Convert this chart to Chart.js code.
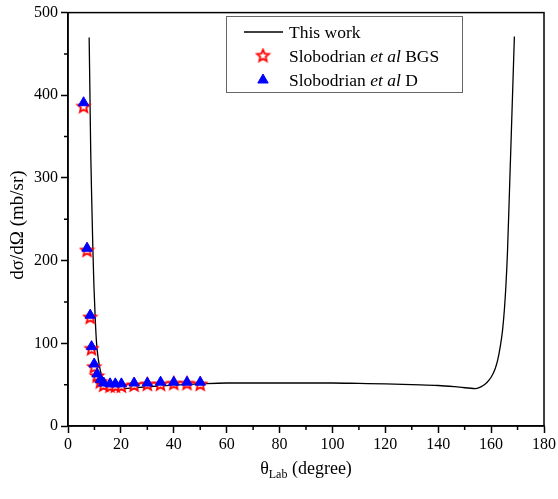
<!DOCTYPE html>
<html>
<head>
<meta charset="utf-8">
<script src="https://cdn.jsdelivr.net/npm/chart.js@4.4.1/dist/chart.umd.min.js"></script>
<style>
  html, body { margin: 0; padding: 0; background: #fff; }
</style>
</head>
<body>
<canvas id="chart" width="558" height="499"></canvas>
<script>
// ── Data ────────────────────────────────────────────────────────────
// theory curve ("This work")
const thetaCurve = [8.0, 8.3, 8.6, 9.0, 9.4, 9.8, 10.3, 10.8, 11.5, 12.3, 13.2, 14.5, 16, 18, 20, 24, 30, 40, 50, 60,
                    70, 80, 90, 100, 110, 120, 130, 140, 148, 154, 155.5, 157, 158.5, 160, 161.5, 162.5, 163.5,
                    164.3, 165, 165.6, 166.2, 167, 167.8, 168.8];
const sigmaCurve = [470, 400, 330, 270, 215, 170, 130, 100, 80, 66, 57, 51, 47, 45.5, 45, 46, 47.5, 49.5, 51, 52,
                    52, 52, 52, 52, 51.5, 51, 50, 49, 47, 45.3, 46.5, 49, 53, 59, 69, 80, 97,
                    115, 140, 170, 211, 290, 370, 471];

// Slobodrian et al data
const thetaExp = [5.9, 7.2, 8.4, 8.9, 9.9, 11.0, 12.2, 13.5, 15.9, 17.9, 20.2, 25, 30, 35, 40, 45, 50];
const sigmaBGS = [386, 212, 131, 93, 71, 60, 53, 49, 48, 48, 48, 49, 50, 50, 51, 51, 50];
const sigmaD   = [391, 215, 134, 96, 75, 63, 56, 52, 51, 51, 51, 52, 52, 53, 53, 53, 53];

// axes
const X_TICKS = [0, 20, 40, 60, 80, 100, 120, 140, 160, 180];
const X_MINOR = [10, 30, 50, 70, 90, 110, 130, 150, 170];
const Y_TICKS = [0, 100, 200, 300, 400, 500];
const Y_MINOR = [50, 150, 250, 350, 450];

const SERIF = "'Liberation Serif', 'Times New Roman', serif";

// ── Star marker ─────────────────────────────────────────────────────
function makeStar(r) {
  const c = document.createElement("canvas");
  const s = Math.ceil(r * 2 + 4);
  c.width = c.height = s;
  const g = c.getContext("2d");
  g.beginPath();
  for (let i = 0; i < 10; i++) {
    const rr = i % 2 ? r * 0.45 : r;
    const a = -Math.PI / 2 + i * Math.PI / 5;
    const px = s / 2 + rr * Math.cos(a), py = s / 2 + rr * Math.sin(a);
    i ? g.lineTo(px, py) : g.moveTo(px, py);
  }
  g.closePath();
  g.fillStyle = "#fff";
  g.fill();
  g.lineWidth = 1.8;
  g.strokeStyle = "#f00";
  g.stroke();
  return c;
}
const star = makeStar(6.3);

// ── Extras: frame, minor ticks, axis titles, legend ────────────────
function richText(ctx, parts, x, y, size) {
  parts.forEach(([t, it]) => {
    ctx.font = (it ? "italic " : "") + size + "px " + SERIF;
    ctx.fillText(t, x, y);
    x += ctx.measureText(t).width;
  });
}

const extras = {
  id: "extras",
  afterDraw(chart) {
    const { ctx, chartArea: a, scales: { x, y } } = chart;
    ctx.save();
    ctx.strokeStyle = "#000";
    ctx.lineWidth = 1.5;
    ctx.strokeRect(a.left, a.top, a.right - a.left, a.bottom - a.top);

    ctx.beginPath();
    X_MINOR.forEach(v => { const px = x.getPixelForValue(v); ctx.moveTo(px, a.bottom); ctx.lineTo(px, a.bottom + 4); });
    Y_MINOR.forEach(v => { const py = y.getPixelForValue(v); ctx.moveTo(a.left, py); ctx.lineTo(a.left - 4, py); });
    ctx.stroke();

    // y title
    ctx.fillStyle = "#000";
    ctx.save();
    ctx.translate(18, 225);
    ctx.rotate(-Math.PI / 2);
    ctx.textAlign = "center";
    ctx.textBaseline = "middle";
    ctx.font = "19px " + SERIF;
    ctx.fillText("dσ/dΩ (mb/sr)", 0, 0);
    ctx.restore();

    // x title: θ_Lab (degree)
    ctx.textBaseline = "alphabetic";
    const cx = (a.left + a.right) / 2, by = 474;
    ctx.font = "18px " + SERIF;
    const w1 = ctx.measureText("θ").width, w3 = ctx.measureText(" (degree)").width;
    ctx.font = "12px " + SERIF;
    const w2 = ctx.measureText("Lab").width;
    let tx = cx - (w1 + w2 + w3) / 2;
    ctx.font = "18px " + SERIF; ctx.fillText("θ", tx, by); tx += w1;
    ctx.font = "12px " + SERIF; ctx.fillText("Lab", tx, by + 4); tx += w2;
    ctx.font = "18px " + SERIF; ctx.fillText(" (degree)", tx, by);

    // legend
    ctx.lineWidth = 1;
    ctx.strokeStyle = "#666";
    ctx.strokeRect(226.5, 16.5, 236, 76);
    ctx.textBaseline = "middle";
    ctx.strokeStyle = "#000";
    ctx.lineWidth = 1.3;
    ctx.beginPath(); ctx.moveTo(244, 32); ctx.lineTo(283, 32); ctx.stroke();
    richText(ctx, [["This work", false]], 289, 33, 17.5);
    ctx.drawImage(star, 263 - star.width / 2, 56 - star.height / 2);
    richText(ctx, [["Slobodrian ", false], ["et al", true], [" BGS", false]], 289, 57, 17.5);
    ctx.fillStyle = "#00f"; ctx.strokeStyle = "#00f"; ctx.lineWidth = 1;
    Chart.helpers.drawPoint(ctx, { pointStyle: "triangle", radius: 6, borderWidth: 1 }, 263, 80);
    ctx.fillStyle = "#000";
    richText(ctx, [["Slobodrian ", false], ["et al", true], [" D", false]], 289, 81, 17.5);
    ctx.restore();
  }
};

// ── Chart ───────────────────────────────────────────────────────────
const pts = (xs, ys) => xs.map((v, i) => ({ x: v, y: ys[i] }));
const tickFont = { family: SERIF, size: 16 };

new Chart(document.getElementById("chart"), {
  type: "scatter",
  data: {
    datasets: [
      {
        label: "This work", data: pts(thetaCurve, sigmaCurve), order: 3,
        showLine: true, borderColor: "#000", borderWidth: 1.3, pointRadius: 0,
        cubicInterpolationMode: "monotone", fill: false
      },
      {
        label: "Slobodrian et al BGS", data: pts(thetaExp, sigmaBGS), order: 2,
        pointStyle: star, pointRadius: 7
      },
      {
        label: "Slobodrian et al D", data: pts(thetaExp, sigmaD), order: 1,
        pointStyle: "triangle", pointRadius: 6, backgroundColor: "#00f", borderColor: "#00f", borderWidth: 1
      }
    ]
  },
  options: {
    responsive: false,
    animation: false,
    layout: { padding: { top: 10, right: 13, left: 0, bottom: 0 } },
    plugins: { legend: { display: false }, tooltip: { enabled: false } },
    scales: {
      x: {
        type: "linear", min: 0, max: 180,
        afterBuildTicks: s => { s.ticks = X_TICKS.map(v => ({ value: v })); },
        afterFit: s => { s.height = 73; },
        ticks: { color: "#000", font: tickFont, padding: 2, maxRotation: 0 },
        grid: { drawOnChartArea: false, drawTicks: true, tickLength: 7, tickColor: "#000", tickWidth: 1.5 },
        border: { display: true, color: "#000", width: 1.5 }
      },
      y: {
        type: "linear", min: 0, max: 500,
        afterBuildTicks: s => { s.ticks = Y_TICKS.map(v => ({ value: v })); },
        afterFit: s => { s.width = 68; },
        ticks: { color: "#000", font: tickFont, padding: 3 },
        grid: { drawOnChartArea: false, drawTicks: true, tickLength: 7, tickColor: "#000", tickWidth: 1.5 },
        border: { display: true, color: "#000", width: 1.5 }
      }
    }
  },
  plugins: [extras]
});
</script>
</body>
</html>
